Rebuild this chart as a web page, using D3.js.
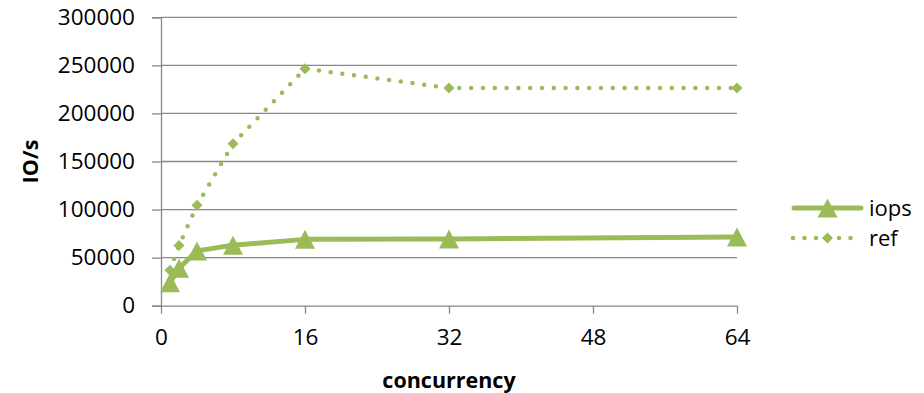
<!DOCTYPE html>
<html>
<head>
<meta charset="utf-8">
<script src="https://cdn.jsdelivr.net/npm/d3@7"></script>
<style>
html,body{margin:0;padding:0;background:#fff;}
svg{display:block;}
text{font-family:"Open Sans","Liberation Sans",sans-serif;fill:#000;}
</style>
</head>
<body>
<svg id="chart" width="924" height="393"></svg>
<script>
const concurrency = [1, 2, 4, 8, 16, 32, 64];
const iops = [24000, 39000, 57000, 63000, 69000, 69500, 71500];
const ref = [37000, 62500, 104500, 168500, 246500, 226500, 226500];
const xTicks = [0, 16, 32, 48, 64];
const yTicks = [0, 50000, 100000, 150000, 200000, 250000, 300000];
const seriesNames = ["iops", "ref"];

const color = "#9BBB59";
const gridColor = "#888888";
const svg = d3.select("#chart");

const x = d3.scaleLinear().domain([0, 64]).range([161, 737]);
const y = d3.scaleLinear().domain([0, 300000]).range([305.7, 17.3]);

// gridlines
svg.append("g").selectAll("line").data(yTicks.filter(d => d > 0)).join("line")
  .attr("x1", x(0)).attr("x2", x(64))
  .attr("y1", d => y(d)).attr("y2", d => y(d))
  .attr("stroke", gridColor).attr("stroke-width", 1.3);

// y axis
const yAxis = d3.axisLeft(y).tickValues(yTicks).tickSize(9).tickPadding(17).tickFormat(d3.format("d"));
const gy = svg.append("g").attr("transform", `translate(${x(0)},0)`).call(yAxis);
gy.select(".domain").attr("stroke", gridColor).attr("stroke-width", 1.3);
gy.selectAll(".tick line").attr("stroke", gridColor).attr("stroke-width", 1.3);
gy.selectAll(".tick text").style("font-size", "22.5px").attr("fill", "#000");

// x axis
const xAxis = d3.axisBottom(x).tickValues(xTicks).tickSize(8).tickPadding(15).tickSizeOuter(0);
const gx = svg.append("g").attr("transform", `translate(0,${y(0)})`).call(xAxis);
gx.select(".domain").attr("stroke", gridColor).attr("stroke-width", 1.3);
gx.selectAll(".tick line").attr("stroke", gridColor).attr("stroke-width", 1.3);
gx.selectAll(".tick text").style("font-size", "22.5px").attr("fill", "#000");
svg.selectAll("g").attr("font-family", null);

// axis titles
svg.append("text").attr("x", x(32)).attr("y", 388).attr("text-anchor", "middle")
  .style("font-size", "21.5px").style("font-weight", "bold").text("concurrency");
svg.append("text").attr("transform", `translate(38,${y(150000)}) rotate(-90)`).attr("text-anchor", "middle")
  .style("font-size", "21.5px").style("font-weight", "bold").text("IO/s");

const triW = 20, triH = 19;
const triPath = `M0,${-triH/2}L${triW/2},${triH/2}L${-triW/2},${triH/2}Z`;
const diaPath = "M0,-5.5L5.5,0L0,5.5L-5.5,0Z";

const line = d3.line().x((d, i) => x(concurrency[i])).y(d => y(d));

// ref series
svg.append("path").datum(ref).attr("d", line).attr("fill", "none")
  .attr("stroke", color).attr("stroke-width", 4.5).attr("stroke-linecap", "round")
  .attr("stroke-dasharray", "0 11.8");
svg.append("g").selectAll("path").data(ref).join("path")
  .attr("transform", (d, i) => `translate(${x(concurrency[i])},${y(d)})`)
  .attr("d", diaPath).attr("fill", color);

// iops series
svg.append("path").datum(iops).attr("d", line).attr("fill", "none")
  .attr("stroke", color).attr("stroke-width", 5).attr("stroke-linejoin", "round").attr("stroke-linecap", "round");
svg.append("g").selectAll("path").data(iops).join("path")
  .attr("transform", (d, i) => `translate(${x(concurrency[i])},${y(d)})`)
  .attr("d", triPath).attr("fill", color);

// legend
const lg = svg.append("g");
const legY = [208, 238];
seriesNames.forEach((name, i) => {
  const ly = legY[i];
  if (name === "iops") {
    lg.append("line").attr("x1", 794).attr("x2", 861).attr("y1", ly).attr("y2", ly)
      .attr("stroke", color).attr("stroke-width", 5).attr("stroke-linecap", "round");
    lg.append("path").attr("transform", `translate(827.5,${ly})`).attr("d", triPath).attr("fill", color);
  } else {
    lg.append("line").attr("x1", 793).attr("x2", 862).attr("y1", ly).attr("y2", ly)
      .attr("stroke", color).attr("stroke-width", 4.5).attr("stroke-linecap", "round")
      .attr("stroke-dasharray", "0 11.5");
    lg.append("path").attr("transform", `translate(827.5,${ly})`).attr("d", diaPath).attr("fill", color);
  }
  lg.append("text").attr("x", 869).attr("y", ly).attr("dy", "0.35em")
    .style("font-size", "22px").text(name);
});
</script>
</body>
</html>
